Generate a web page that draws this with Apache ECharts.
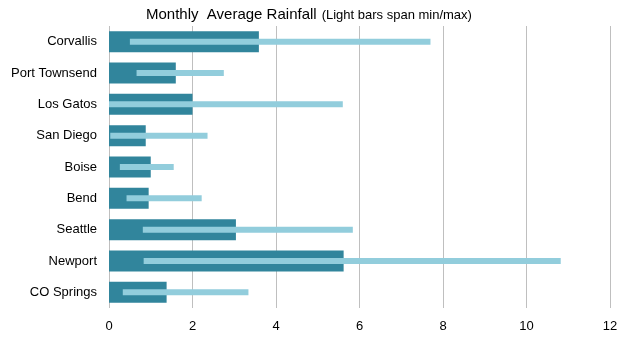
<!DOCTYPE html>
<html>
<head>
<meta charset="utf-8">
<script src="https://cdn.jsdelivr.net/npm/echarts@6/dist/echarts.min.js"></script>
<style>
  html, body { margin: 0; padding: 0; background: #fff; }
  #chart { width: 632px; height: 341px; }
</style>
</head>
<body>
<div id="chart"></div>
<script>
// Cities, top to bottom
const cities = ['Corvallis', 'Port Townsend', 'Los Gatos', 'San Diego', 'Boise', 'Bend', 'Seattle', 'Newport', 'CO Springs'];
// Monthly average rainfall (inches)
const avgRain = [3.59, 1.6, 2.0, 0.88, 1.0, 0.95, 3.04, 5.62, 1.38];
// Lowest and highest monthly values
const minRain = [0.5, 0.66, 0.0, 0.03, 0.26, 0.42, 0.81, 0.83, 0.33];
const maxRain = [7.7, 2.75, 5.6, 2.36, 1.55, 2.22, 5.84, 10.82, 3.34];
// Value axis ticks
const xTicks = [0, 2, 4, 6, 8, 10, 12];

const spanRain = maxRain.map((v, i) => +(v - minRain[i]).toFixed(2));

const font = '"Liberation Sans", Arial, sans-serif';
const chart = echarts.init(document.getElementById('chart'), null, { renderer: 'canvas' });

chart.setOption({
  animation: false,
  backgroundColor: '#fff',
  textStyle: { fontFamily: font },
  title: {
    left: 141,
    top: 1,
    text: '{a|Monthly  Average Rainfall} {b|(Light bars span min/max)}',
    textStyle: {
      fontWeight: 'normal',
      rich: {
        a: { fontSize: 15, color: '#000', fontFamily: font, fontWeight: 'normal' },
        b: { fontSize: 13, color: '#000', fontFamily: font, fontWeight: 'normal' }
      }
    }
  },
  grid: { left: 109, right: 22, top: 26, bottom: 33, containLabel: false },
  xAxis: {
    type: 'value',
    min: xTicks[0],
    max: xTicks[xTicks.length - 1],
    interval: 2,
    axisLine: { show: false },
    axisTick: { show: false },
    axisLabel: { color: '#000', fontSize: 13, fontFamily: font, margin: 12 },
    splitLine: { show: true, lineStyle: { color: '#BFBFBF', width: 1 } }
  },
  yAxis: [
    {
      type: 'category',
      data: cities,
      inverse: true,
      axisLine: { show: false },
      axisTick: { show: false },
      axisLabel: { color: '#000', fontSize: 13, fontFamily: font, margin: 12 }
    },
    {
      type: 'category',
      data: cities,
      inverse: true,
      position: 'left',
      show: false
    }
  ],
  series: [
    {
      name: 'Average',
      type: 'bar',
      yAxisIndex: 0,
      data: avgRain,
      barWidth: 21,
      itemStyle: { color: '#31859C' }
    },
    {
      name: 'Min',
      type: 'bar',
      yAxisIndex: 1,
      stack: 'range',
      data: minRain,
      barWidth: 6,
      itemStyle: { color: 'transparent' }
    },
    {
      name: 'Range',
      type: 'bar',
      yAxisIndex: 1,
      stack: 'range',
      data: spanRain,
      barWidth: 6,
      itemStyle: { color: '#92CDDC' }
    }
  ]
});
</script>
</body>
</html>
